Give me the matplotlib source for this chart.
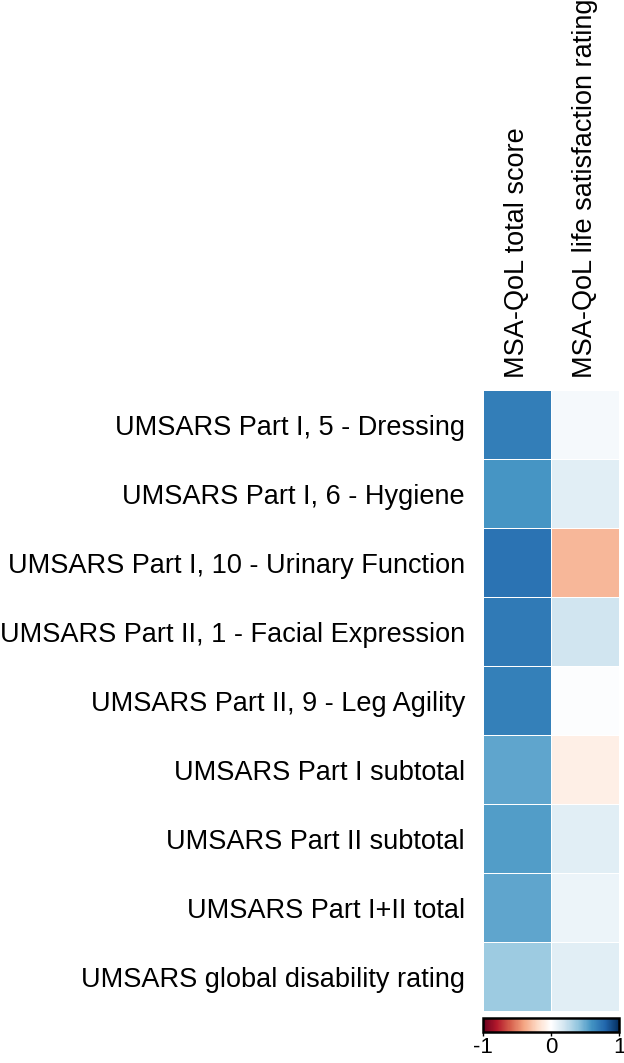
import matplotlib.pyplot as plt
import numpy as np
from matplotlib.colors import LinearSegmentedColormap

plt.rcParams['font.family'] = ['Liberation Sans', 'DejaVu Sans']
plt.rcParams['axes.unicode_minus'] = False

# data (correlation coefficients)
items = [
    'UMSARS Part I, 5 - Dressing',
    'UMSARS Part I, 6 - Hygiene',
    'UMSARS Part I, 10 - Urinary Function',
    'UMSARS Part II, 1 - Facial Expression',
    'UMSARS Part II, 9 - Leg Agility',
    'UMSARS Part I subtotal',
    'UMSARS Part II subtotal',
    'UMSARS Part I+II total',
    'UMSARS global disability rating',
]
outcomes = ['MSA-QoL total score', 'MSA-QoL life satisfaction rating']
qol_total = [0.69, 0.59, 0.74, 0.71, 0.68, 0.53, 0.56, 0.53, 0.36]
life_sat = [0.04, 0.13, -0.33, 0.20, 0.01, -0.09, 0.13, 0.08, 0.13]
cbar_ticks = [-1, 0, 1]

# RdBu brewer palette with a white middle (corrplot style)
rdbu_white = LinearSegmentedColormap.from_list('rdbu_w', [
    '#67001F', '#B2182B', '#D6604D', '#F4A582', '#FDDBC7', '#FFFFFF',
    '#D1E5F0', '#92C5DE', '#4393C3', '#2166AC', '#053061'], N=256)

vals = np.column_stack([qol_total, life_sat])

fig = plt.figure(figsize=(6.24, 10.63), dpi=100)
ax = fig.add_axes([0.774, 0.0489, 0.218, 0.5842])
mesh = ax.pcolormesh(vals, cmap=rdbu_white, vmin=-1, vmax=1,
                     edgecolors='white', linewidth=0.4)
ax.set_xlim(0, len(outcomes))
ax.set_ylim(len(items), 0)
ax.set_xticks(np.arange(len(outcomes)) + 0.5, outcomes, rotation=90)
ax.xaxis.tick_top()
ax.set_yticks(np.arange(len(items)) + 0.5, items)
ax.tick_params(axis='y', length=0, labelsize=19.5, pad=13)
ax.tick_params(axis='x', length=0, labelsize=19.5, pad=9)
for s in ax.spines.values():
    s.set_visible(False)

cax = fig.add_axes([0.774, 0.0295, 0.218, 0.0132])
cb = fig.colorbar(mesh, cax=cax, orientation='horizontal', ticks=cbar_ticks)
cb.outline.set_linewidth(1.8)
cb.ax.tick_params(labelsize=16, length=3, width=1, pad=1)

fig.savefig('out.png', dpi=100)
